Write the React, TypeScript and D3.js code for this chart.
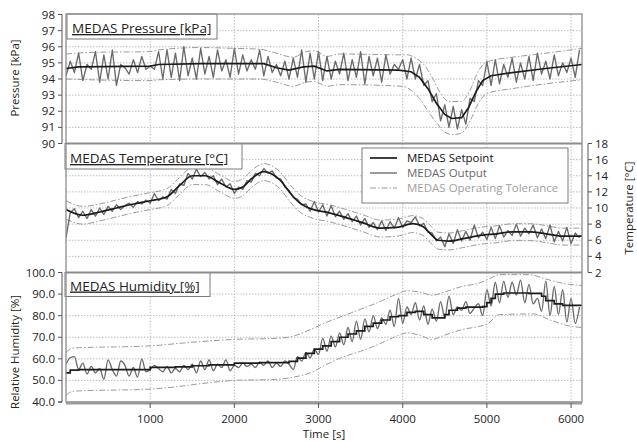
import React from "react";
import * as d3 from "d3";

// ---------------- DATA ----------------
const STEP = 50; // output sampling interval [s]
const xTicks = [1000, 2000, 3000, 4000, 5000, 6000];
const pressureTicks = [90, 91, 92, 93, 94, 95, 96, 97, 98];
const temperatureTicks = [2, 4, 6, 8, 10, 12, 14, 16, 18];
const humidityTicks = [40, 50, 60, 70, 80, 90, 100];

const pressureSetpoint: [number, number][] = [
  [0, 94.65], [150, 94.75], [1000, 94.8], [1100, 94.9], [1600, 94.95], [2350, 94.95],
  [2500, 94.7], [2650, 94.55], [2820, 94.75], [2950, 94.8], [3100, 94.5], [3250, 94.6],
  [3950, 94.55], [4100, 94.45], [4200, 94.1], [4300, 93.4], [4400, 92.5], [4500, 91.8],
  [4580, 91.55], [4700, 91.6], [4780, 92.2], [4870, 93.2], [4950, 93.9], [5050, 94.2],
  [5300, 94.4], [5700, 94.65], [6130, 94.9],
];
const pressureTolUpper: [number, number][] = [
  [0, 95.55], [300, 95.65], [1000, 95.7], [1100, 95.8], [1600, 95.95], [2000, 95.9],
  [2300, 95.85], [2500, 95.6], [2700, 95.35], [2850, 95.7], [2950, 95.75], [3100, 95.4],
  [3250, 95.55], [3950, 95.5], [4050, 95.5], [4150, 95.3], [4250, 94.9], [4350, 94.1],
  [4450, 93.1], [4550, 92.6], [4700, 92.6], [4800, 93.3], [4900, 94.5], [4980, 95.0],
  [5100, 95.2], [5300, 95.35], [5700, 95.6], [6130, 95.9],
];
const pressureTolLower: [number, number][] = [
  [0, 94.0], [300, 93.95], [1000, 93.9], [1100, 93.95], [1600, 94.0], [2300, 94.0],
  [2500, 93.8], [2700, 93.55], [2850, 93.8], [2950, 93.85], [3100, 93.55], [3250, 93.65],
  [4000, 93.55], [4100, 93.3], [4200, 92.8], [4300, 92.0], [4400, 91.3], [4500, 90.7],
  [4600, 90.55], [4700, 90.65], [4800, 91.4], [4900, 92.5], [5000, 93.1], [5300, 93.4],
  [5700, 93.7], [6130, 93.95],
];
const pressureOutput = [
  94.2, 95.1, 94.4, 95.6, 93.9, 94.9, 94.6, 95.7, 93.8, 95.5, 94.0, 95.8, 93.6, 94.9, 94.7, 94.3, 95.2, 94.4, 95.4, 94.6, 94.8,
  94.6, 95.7, 94.0, 95.8, 94.1, 95.6, 93.9, 96.0, 94.2, 95.3, 94.0, 95.9, 94.3, 95.4, 94.1, 95.8, 94.5, 95.2, 94.1, 95.9,
  94.3, 95.5, 94.5, 95.2, 94.6, 95.8, 94.2, 95.4, 94.4, 94.9, 94.2, 95.1, 94.0, 95.3, 94.1, 95.8, 93.8, 95.6, 94.0, 95.7,
  93.9, 95.4, 94.0, 95.1, 94.3, 95.6, 93.9, 95.2, 94.1, 95.7, 93.7, 95.4, 94.2, 95.3, 93.8, 95.5, 94.3, 94.9, 94.6, 95.2,
  94.0, 95.3, 94.0, 94.9, 93.6, 93.9, 92.6, 93.1, 91.4, 92.4, 91.0, 92.3, 90.9, 92.1, 91.2, 92.8, 92.6, 93.9, 93.6, 95.1,
  93.6, 95.2, 93.7, 94.9, 94.1, 95.3, 93.8, 95.0, 94.0, 95.4, 93.9, 95.6, 94.3, 95.1, 94.0, 95.5, 94.2, 95.0, 94.4, 95.3, 94.1, 95.8,
];

const temperatureSetpoint: [number, number][] = [
  [0, 9.8], [200, 9.1], [400, 9.5], [600, 10.0], [800, 10.5], [1000, 10.9], [1200, 11.4],
  [1350, 12.8], [1500, 14.0], [1650, 14.0], [1830, 13.1], [2000, 12.3], [2100, 12.6],
  [2200, 13.6], [2350, 14.5], [2450, 14.2], [2550, 13.4], [2660, 11.9], [2780, 10.6],
  [2940, 9.8], [3130, 9.4], [3330, 8.8], [3530, 8.15], [3730, 7.5], [3930, 7.6], [4120, 8.05],
  [4240, 7.7], [4330, 6.8], [4420, 6.0], [4550, 5.9], [4720, 6.2], [4920, 6.6], [5120, 6.8],
  [5310, 7.05], [5510, 7.05], [5710, 6.8], [5900, 6.5], [6130, 6.5],
];
const temperatureTolUpper: [number, number][] = [
  [0, 10.9], [200, 10.2], [400, 10.5], [600, 11.0], [800, 11.5], [1000, 11.9], [1200, 12.4],
  [1350, 13.8], [1500, 15.0], [1650, 15.0], [1830, 14.1], [2000, 13.3], [2100, 13.6],
  [2200, 14.6], [2350, 15.5], [2450, 15.2], [2550, 14.4], [2660, 12.9], [2780, 11.6],
  [2940, 10.8], [3130, 10.4], [3330, 9.8], [3530, 9.15], [3730, 8.5], [3930, 8.6], [4120, 9.05],
  [4240, 8.7], [4330, 7.8], [4420, 7.0], [4550, 6.9], [4720, 7.2], [4920, 7.6], [5120, 7.8],
  [5310, 8.05], [5510, 8.05], [5710, 7.8], [5900, 7.5], [6130, 7.5],
];
const temperatureTolLower: [number, number][] = [
  [0, 8.6], [200, 8.0], [400, 8.4], [600, 8.9], [800, 9.4], [1000, 9.8], [1200, 10.3],
  [1350, 11.7], [1500, 12.9], [1650, 12.9], [1830, 12.0], [2000, 11.2], [2100, 11.5],
  [2200, 12.5], [2350, 13.4], [2450, 13.1], [2550, 12.3], [2660, 10.8], [2780, 9.5],
  [2940, 8.7], [3130, 8.3], [3330, 7.7], [3530, 7.05], [3730, 6.4], [3930, 6.5], [4120, 6.95],
  [4240, 6.6], [4330, 5.7], [4420, 4.9], [4550, 4.8], [4720, 5.1], [4920, 5.5], [5120, 5.7],
  [5310, 5.95], [5510, 5.95], [5710, 5.7], [5900, 5.4], [6130, 5.4],
];
const temperatureOutput = [
  6.3, 9.4, 9.9, 8.8, 9.6, 8.7, 9.8, 9.0, 10.0, 9.2, 10.2, 9.6, 10.4, 9.8, 10.3, 10.6, 10.1, 10.8, 10.5, 11.0, 10.6,
  11.8, 10.9, 11.4, 11.1, 12.3, 11.8, 13.0, 12.8, 14.3, 13.6, 14.8, 13.9, 14.4, 13.6, 14.0, 12.9, 13.6, 12.6, 13.0, 11.8,
  12.6, 12.3, 13.4, 13.2, 14.3, 14.0, 14.9, 14.3, 14.6, 13.7, 13.6, 12.6, 12.2, 11.3, 11.1, 10.4, 10.5, 9.6, 10.8, 9.5,
  10.4, 9.0, 10.3, 8.9, 9.6, 8.6, 9.3, 8.3, 9.0, 7.9, 8.7, 7.6, 8.2, 7.3, 8.4, 7.2, 8.3, 7.5, 8.8, 7.6,
  8.4, 8.2, 8.9, 7.8, 8.1, 7.0, 6.9, 5.9, 6.4, 5.2, 6.8, 5.6, 7.3, 5.9, 7.1, 6.0, 7.9, 6.3, 7.0, 6.1,
  7.6, 6.2, 7.8, 6.4, 7.2, 6.6, 8.0, 6.5, 7.5, 6.8, 7.9, 6.3, 7.4, 6.2, 7.9, 5.8, 7.1, 5.9, 7.6, 5.6, 6.9, 6.3,
];

const humiditySetpoint: [number, number][] = [
  [0, 53.5], [50, 54.8], [150, 55.0], [1000, 56.0], [1300, 56.3], [1500, 56.8], [1700, 57.2],
  [2000, 58.0], [2300, 58.2], [2650, 58.8], [2750, 60.3], [2850, 62.5], [2950, 64.5],
  [3050, 66.0], [3150, 68.0], [3250, 70.0], [3350, 71.5], [3450, 73.0], [3550, 75.0],
  [3650, 76.5], [3750, 78.0], [3850, 79.5], [3950, 80.0], [4050, 81.5], [4150, 82.0],
  [4250, 80.5], [4350, 79.0], [4500, 80.5], [4550, 82.5], [4650, 83.5], [4750, 84.0],
  [4950, 84.2], [5000, 86.0], [5050, 88.0], [5100, 90.0], [5200, 90.5], [5500, 90.3],
  [5650, 89.0], [5700, 87.0], [5800, 85.5], [5900, 84.8], [6130, 84.6],
];
const humidityTolUpper: [number, number][] = [
  [0, 63.0], [80, 65.0], [1000, 66.0], [1300, 67.0], [1600, 68.0], [2000, 69.0], [2500, 69.5],
  [2700, 70.5], [2900, 73.5], [3100, 77.0], [3300, 80.0], [3500, 83.0], [3700, 86.0],
  [3900, 89.5], [4050, 91.5], [4200, 91.0], [4350, 89.5], [4500, 91.0], [4700, 93.5],
  [4900, 95.0], [5000, 96.5], [5150, 99.0], [5500, 99.0], [5700, 97.0], [5900, 95.0], [6130, 94.0],
];
const humidityTolLower: [number, number][] = [
  [0, 43.0], [80, 45.0], [1000, 46.0], [1300, 47.0], [1600, 48.5], [2000, 50.0], [2500, 50.5],
  [2700, 51.5], [2900, 53.5], [3100, 57.5], [3300, 61.0], [3500, 63.5], [3700, 66.5],
  [3900, 70.0], [4050, 72.0], [4200, 71.0], [4350, 69.0], [4500, 71.0], [4700, 73.5],
  [4900, 75.0], [5000, 76.0], [5150, 80.5], [5550, 80.8], [5750, 78.0], [5950, 75.5], [6130, 74.5],
];
const humidityOutput = [
  57.5, 60.5, 61.0, 55.0, 58.0, 53.0, 56.5, 53.5, 55.5, 50.5, 59.5, 55.0, 52.0, 59.0, 57.0, 52.0, 56.0, 51.5, 60.0, 54.0, 55.0,
  57.0, 55.5, 54.0, 56.5, 53.5, 55.5, 54.0, 57.0, 55.0, 57.5, 53.5, 59.0, 55.0, 59.5, 54.5, 57.5, 56.0, 59.5, 54.5, 57.0,
  56.0, 58.0, 56.5, 57.5, 56.0, 58.5, 57.0, 59.0, 56.0, 58.0, 56.5, 59.0, 57.5, 55.0, 61.0, 59.0, 63.0, 60.5, 64.5, 62.0,
  69.5, 63.5, 70.5, 65.5, 72.0, 66.5, 74.5, 68.0, 77.5, 69.0, 78.5, 72.5, 80.0, 74.0, 79.0, 76.0, 82.5, 75.0, 88.0, 76.5,
  84.0, 80.5, 86.0, 78.0, 84.5, 76.0, 83.0, 77.5, 86.5, 79.0, 89.0, 80.5, 84.0, 82.5, 86.5, 81.0, 83.5, 85.5, 80.0, 92.0,
  84.5, 95.5, 86.0, 96.0, 88.5, 95.5, 89.5, 96.5, 86.0, 94.5, 85.5, 88.0, 82.0, 96.0, 80.0, 93.5, 80.5, 92.0, 77.0, 88.0, 76.5, 84.0,
];

const legendLabels = ["MEDAS Setpoint", "MEDAS Output", "MEDAS Operating Tolerance"];

// ---------------- LAYOUT ----------------
const W = 637;
const H = 442;
const L = 66;
const R = 582;
const P1 = [14, 143.5];
const P2 = [143.5, 272.5];
const P3 = [272.5, 402];
const FONT = "'Open Sans', 'DejaVu Sans', sans-serif";

const x = d3.scaleLinear().domain([0, 6130]).range([L, R]);
const yP = d3.scaleLinear().domain([90, 98]).range([P1[1], 14.5]);
const yT = d3.scaleLinear().domain([2, 18]).range([P2[1], P2[0]]);
const yH = d3.scaleLinear().domain([40, 100]).range([P3[1], P3[0]]);

const C_SET = "#1c1c1c";
const C_OUT = "#6a6a6a";
const C_TOL = "#9a9a9a";
const DASH_TOL = "6,2,1.5,2";

function pairLine(y: d3.ScaleLinear<number, number>, curve: d3.CurveFactory) {
  return d3
    .line<[number, number]>()
    .x((d) => x(d[0]))
    .y((d) => y(d[1]))
    .curve(curve);
}
function outLine(y: d3.ScaleLinear<number, number>, curve: d3.CurveFactory) {
  return d3
    .line<number>()
    .x((_, i) => x(i * STEP))
    .y((v) => y(v))
    .curve(curve);
}

type PanelProps = {
  id: string;
  y: d3.ScaleLinear<number, number>;
  band: number[];
  ticks: number[];
  setpoint: [number, number][];
  upper: [number, number][];
  lower: [number, number][];
  output: number[];
  setCurve: d3.CurveFactory;
  outCurve: d3.CurveFactory;
};

function Panel(p: PanelProps) {
  const tol = pairLine(p.y, d3.curveMonotoneX);
  const sp = pairLine(p.y, p.setCurve);
  const out = outLine(p.y, p.outCurve);
  return (
    <g>
      <defs>
        <clipPath id={p.id}>
          <rect x={L} y={p.band[0]} width={R - L} height={p.band[1] - p.band[0]} />
        </clipPath>
      </defs>
      {p.ticks
        .filter((t) => p.y(t) > p.band[0] + 1 && p.y(t) < p.band[1] - 1)
        .map((t) => (
          <line key={t} x1={L} x2={R} y1={p.y(t)} y2={p.y(t)} stroke="#b5b5b5" strokeWidth={0.9} strokeDasharray="1.5,1.5" />
        ))}
      {xTicks.map((t) => (
        <line key={"v" + t} x1={x(t)} x2={x(t)} y1={p.band[0]} y2={p.band[1]} stroke="#b5b5b5" strokeWidth={0.9} strokeDasharray="1.5,1.5" />
      ))}
      <g clipPath={`url(#${p.id})`} fill="none">
        <path d={tol(p.upper) || ""} stroke={C_TOL} strokeWidth={1} strokeDasharray={DASH_TOL} />
        <path d={tol(p.lower) || ""} stroke={C_TOL} strokeWidth={1} strokeDasharray={DASH_TOL} />
        <path d={out(p.output) || ""} stroke={C_OUT} strokeWidth={1.35} strokeLinejoin="round" />
        <path d={sp(p.setpoint) || ""} stroke={C_SET} strokeWidth={1.7} />
      </g>
    </g>
  );
}

function TitleBox({ x0, y0, w, h, text }: { x0: number; y0: number; w: number; h: number; text: string }) {
  return (
    <g>
      <rect x={x0} y={y0} width={w} height={h} fill="#fff" stroke="#7a7a7a" strokeWidth={1} />
      <text x={x0 + 5} y={y0 + h - 6} fontSize={13.5} fontFamily={FONT} fill="#222" style={{ textDecoration: "underline" }}>
        {text}
      </text>
    </g>
  );
}

function VAxis({ y, ticks, x0, side, fmt }: { y: d3.ScaleLinear<number, number>; ticks: number[]; x0: number; side: number; fmt: (v: number) => string }) {
  const [r0, r1] = y.range();
  const k = 4 * side;
  return (
    <g fontFamily={FONT} fontSize={11.5} fill="#222">
      <path d={`M${x0 + k},${r0}H${x0}V${r1}H${x0 + k}`} fill="none" stroke="#555" strokeWidth={1} />
      {ticks.map((t) => (
        <g key={t}>
          <line x1={x0} x2={x0 + k} y1={y(t)} y2={y(t)} stroke="#555" strokeWidth={1} />
          <text x={x0 + k + 3 * side} y={y(t)} dy="0.35em" textAnchor={side < 0 ? "end" : "start"}>
            {fmt(t)}
          </text>
        </g>
      ))}
    </g>
  );
}

export default function App() {
  return (
    <svg width={W} height={H} style={{ position: "absolute", left: 0, top: 0, background: "#fff" }} xmlns="http://www.w3.org/2000/svg">
      <rect x={0} y={0} width={W} height={H} fill="#fff" />
      <Panel id="cp1" y={yP} band={P1} ticks={pressureTicks} setpoint={pressureSetpoint} upper={pressureTolUpper} lower={pressureTolLower} output={pressureOutput} setCurve={d3.curveLinear} outCurve={d3.curveLinear} />
      <Panel id="cp2" y={yT} band={P2} ticks={temperatureTicks} setpoint={temperatureSetpoint} upper={temperatureTolUpper} lower={temperatureTolLower} output={temperatureOutput} setCurve={d3.curveMonotoneX} outCurve={d3.curveLinear} />
      <Panel id="cp3" y={yH} band={P3} ticks={humidityTicks} setpoint={humiditySetpoint} upper={humidityTolUpper} lower={humidityTolLower} output={humidityOutput} setCurve={d3.curveStepAfter} outCurve={d3.curveMonotoneX} />

      <TitleBox x0={67} y0={14} w={150} h={25} text="MEDAS Pressure [kPa]" />
      <TitleBox x0={65} y0={143.5} w={177} h={25.5} text="MEDAS Temperature [°C]" />
      <TitleBox x0={65} y0={272.5} w={145} h={24} text="MEDAS Humidity [%]" />

      {/* legend */}
      <g fontFamily={FONT} fontSize={11.5}>
        <rect x={362} y={148} width={206} height={55} fill="#fff" stroke="#7a7a7a" strokeWidth={1} />
        <line x1={370} x2={397} y1={158} y2={158} stroke={C_SET} strokeWidth={1.7} />
        <line x1={370} x2={397} y1={173} y2={173} stroke={C_OUT} strokeWidth={1.35} />
        <line x1={370} x2={397} y1={188} y2={188} stroke={C_TOL} strokeWidth={1} strokeDasharray={DASH_TOL} />
        <text x={407} y={158} dy="0.35em" fill="#111">{legendLabels[0]}</text>
        <text x={407} y={173} dy="0.35em" fill="#6a6a6a">{legendLabels[1]}</text>
        <text x={407} y={188} dy="0.35em" fill="#a0a0a0">{legendLabels[2]}</text>
      </g>

      {/* frame */}
      <rect x={L} y={P1[0]} width={R - L} height={P3[1] - P1[0]} fill="none" stroke="#8c8c8c" strokeWidth={1.3} />
      <line x1={L} x2={R} y1={P1[1]} y2={P1[1]} stroke="#8c8c8c" strokeWidth={2} />
      <line x1={L} x2={R} y1={P2[1]} y2={P2[1]} stroke="#8c8c8c" strokeWidth={2} />
      <line x1={L} x2={R} y1={P3[1] + 1} y2={P3[1] + 1} stroke="#9a9a9a" strokeWidth={3} />

      {/* axes */}
      <VAxis y={yP} ticks={pressureTicks} x0={62} side={-1} fmt={(v) => String(v)} />
      <VAxis y={yH} ticks={humidityTicks} x0={62} side={-1} fmt={(v) => v.toFixed(1)} />
      <VAxis y={yT} ticks={temperatureTicks} x0={588} side={1} fmt={(v) => String(v)} />

      <g fontFamily={FONT} fontSize={11.5} fill="#222">
        {xTicks.map((t) => (
          <g key={t}>
            <line x1={x(t)} x2={x(t)} y1={403} y2={408} stroke="#555" strokeWidth={1} />
            <text x={x(t)} y={423} textAnchor="middle">{t}</text>
          </g>
        ))}
        <text x={(L + R) / 2} y={438} textAnchor="middle">Time [s]</text>
        <text transform="translate(19,78) rotate(-90)" textAnchor="middle">Pressure [kPa]</text>
        <text transform="translate(19,352) rotate(-90)" textAnchor="middle">Relative Humidity [%]</text>
        <text transform="translate(633,208) rotate(-90)" textAnchor="middle">Temperature [°C]</text>
      </g>
    </svg>
  );
}
